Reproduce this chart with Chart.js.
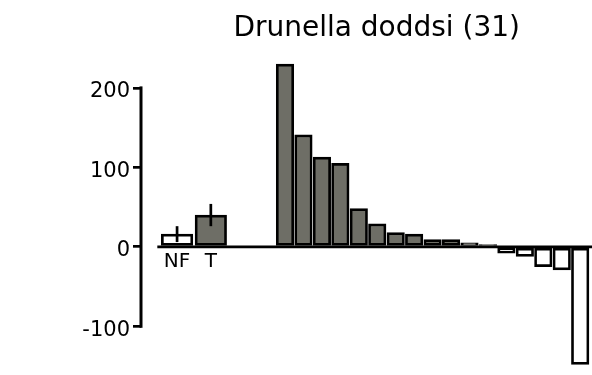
<!DOCTYPE html>
<html><head><meta charset="utf-8">
<script src="https://cdn.jsdelivr.net/npm/chart.js@4/dist/chart.umd.min.js"></script>
<style>html,body{margin:0;padding:0;background:#fff}</style>
</head><body>
<canvas id="c" width="592" height="375"></canvas>
<script>
// ---- data ----
const chartTitle = 'Drunella doddsi (31)';
const refCategories = ['NF', 'T'];
const refValues = [16, 40];
const refErrors = [10, 14];
const taxaValues = [230, 141, 113, 105, 48, 29, 18, 16, 9, 9, 5, 3, -8, -12, -25, -29, -148];
const yTickValues = [-100, 0, 100, 200];

// ---- layout / style ----
const GRAY = '#6e6e66';
const FONT = 'DejaVu Sans';
const refX = [-5.85, -4.02];            // slot positions of NF, T (left of taxa bars)
const taxaX = taxaValues.map((_, i) => i);
const REF_W = 31.5, TAXA_W = 17.5;

const overlay = {
  id: 'overlay',
  afterDatasetsDraw(chart) {
    const ctx = chart.ctx, xs = chart.scales.x, ys = chart.scales.y, ca = chart.chartArea;
    ctx.save();
    ctx.strokeStyle = '#000';
    // baseline at zero
    const y0 = ys.getPixelForValue(0);
    ctx.lineWidth = 2.7;
    ctx.beginPath();
    ctx.moveTo(xs.getPixelForValue(refX[0]) - REF_W / 2 - 4, y0);
    ctx.lineTo(ca.right, y0);
    ctx.stroke();
    // error bars
    refValues.forEach((v, i) => {
      const px = xs.getPixelForValue(refX[i]);
      ctx.beginPath();
      ctx.moveTo(px, ys.getPixelForValue(v + refErrors[i]));
      ctx.lineTo(px, ys.getPixelForValue(v - refErrors[i]));
      ctx.stroke();
    });
    // y axis line spanning tick range
    ctx.lineWidth = 3;
    ctx.lineCap = 'square';
    ctx.beginPath();
    ctx.moveTo(ca.left, ys.getPixelForValue(Math.max(...yTickValues)));
    ctx.lineTo(ca.left, ys.getPixelForValue(Math.min(...yTickValues)));
    ctx.stroke();
    // category labels
    ctx.fillStyle = '#000';
    ctx.font = '20px "' + FONT + '"';
    ctx.textAlign = 'center';
    ctx.textBaseline = 'alphabetic';
    refCategories.forEach((c, i) => ctx.fillText(c, xs.getPixelForValue(refX[i]), y0 + 20));
    // title
    ctx.font = '28px "' + FONT + '"';
    ctx.fillText(chartTitle, 376.7, 36);
    ctx.restore();
  }
};

new Chart(document.getElementById('c'), {
  type: 'bar',
  data: {
    datasets: [
      {
        data: refValues.map((v, i) => ({ x: refX[i], y: v })),
        backgroundColor: ['#ffffff', GRAY],
        borderColor: '#000', borderWidth: 2.7, borderSkipped: false,
        barThickness: REF_W, grouped: false, clip: false
      },
      {
        data: taxaValues.map((v, i) => ({ x: taxaX[i], y: v })),
        backgroundColor: taxaValues.map(v => v >= 0 ? GRAY : '#ffffff'),
        borderColor: '#000', borderWidth: 2.7, borderSkipped: false,
        barThickness: TAXA_W, grouped: false, clip: false
      }
    ]
  },
  options: {
    responsive: false, animation: false, devicePixelRatio: 1,
    layout: { padding: { left: 0, right: 0, top: 56.1, bottom: 1 } },
    plugins: { legend: { display: false }, tooltip: { enabled: false }, title: { display: false } },
    scales: {
      x: { type: 'linear', display: false, min: -7.805, max: 16.64, offset: false },
      y: {
        min: -160, max: 240,
        afterBuildTicks(s) { s.ticks = yTickValues.map(v => ({ value: v })); },
        afterFit(s) { s.width = 141; s.paddingTop = 0; s.paddingBottom = 0; },
        grid: { drawOnChartArea: false, drawTicks: true, tickLength: 8, lineWidth: 2.7, color: '#000' },
        border: { display: false },
        ticks: { color: '#000', padding: 3, labelOffset: 4, font: { family: FONT, size: 21 } }
      }
    }
  },
  plugins: [overlay]
});
</script>
</body></html>
